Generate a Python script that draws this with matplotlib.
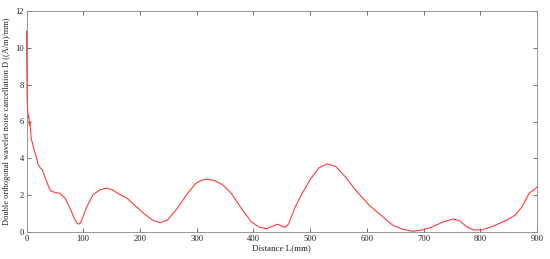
import matplotlib.pyplot as plt

# distance (mm) and cancellation D ((A/m)/mm)
distance = [0, 0.5, 1, 2, 3, 4, 5, 6, 7, 8.5, 10, 13, 17, 20.7, 24, 27.8, 31, 35.5, 39, 42.6,
            50, 59, 68, 78, 84, 90, 94, 97.5, 106.5, 117, 130, 141, 151, 163, 177.5, 189,
            207, 222, 235.6, 248.5, 266, 284, 299, 307.6, 316.7, 331, 346, 361, 378.6, 396,
            411, 423, 435, 442.6, 450, 456, 462, 474, 486, 500.6, 515, 530, 545, 562, 580,
            604, 627.6, 645, 663, 681, 699, 716.5, 734, 752, 764, 776, 788, 803, 823.5, 847,
            862, 874, 886, 898, 900]
d_value = [10.9, 9.0, 7.5, 6.6, 6.2, 6.3, 5.8, 6.0, 5.6, 5.0, 4.9, 4.5, 4.1, 3.65, 3.5, 3.38,
           3.1, 2.74, 2.45, 2.23, 2.15, 2.1, 1.83, 1.2, 0.75, 0.44, 0.45, 0.65, 1.38, 2.02, 2.3,
           2.38, 2.3, 2.06, 1.83, 1.5, 1.0, 0.65, 0.5, 0.65, 1.29, 2.1, 2.65, 2.8, 2.87, 2.8,
           2.56, 2.1, 1.29, 0.56, 0.25, 0.18, 0.33, 0.42, 0.33, 0.25, 0.43, 1.38, 2.1, 2.87,
           3.47, 3.7, 3.56, 3.0, 2.28, 1.46, 0.84, 0.38, 0.15, 0.04, 0.11, 0.29, 0.54, 0.71,
           0.6, 0.29, 0.11, 0.11, 0.33, 0.65, 0.93, 1.38, 2.1, 2.38, 2.45]

x_ticks = list(range(0, 901, 100))
y_ticks = list(range(0, 13, 2))

plt.rcParams['font.family'] = ['Liberation Serif', 'DejaVu Serif']

fig = plt.figure(figsize=(5.5, 2.59), dpi=100)
ax = fig.add_axes([26.5 / 550, 1 - 232 / 259, (537 - 26.5) / 550, (232 - 11) / 259])
ax.plot(distance, d_value, color='#ff3a3a', lw=0.8, zorder=3, clip_on=False)

ax.set_xlim(0, 900)
ax.set_ylim(0, 12)
ax.set_xticks(x_ticks)
ax.set_yticks(y_ticks)
ax.tick_params(direction='in', top=True, right=True, length=3, width=0.6,
               labelsize=6.2, colors='#555555', labelcolor='#222222', pad=2)
for s in ax.spines.values():
    s.set_color('#888888')
    s.set_linewidth(0.6)

ax.set_xlabel('Distance L(mm)', fontsize=6.5, labelpad=1, color='#222222')
ax.set_ylabel('Double orthogonal wavelet noise cancellation D ((A/m)/mm)', fontsize=6,
              labelpad=3, color='#222222')

fig.savefig('out.png', dpi=100)
